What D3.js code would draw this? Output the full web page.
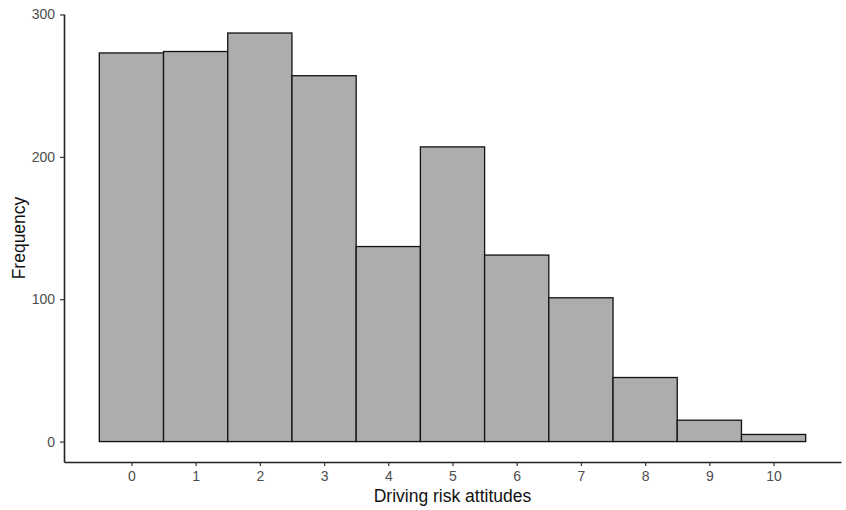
<!DOCTYPE html>
<html>
<head>
<meta charset="utf-8">
<script src="https://cdn.jsdelivr.net/npm/d3@7"></script>
<style>
  body { margin: 0; background: #fff; }
  svg { display: block; font-family: "Liberation Sans", Arial, sans-serif; }
</style>
</head>
<body>
<svg id="chart" width="846" height="510"></svg>
<script>
// histogram bins (score) and counts
const scores = [0, 1, 2, 3, 4, 5, 6, 7, 8, 9, 10];
const counts = [273, 274, 287, 257, 137, 207, 131, 101, 45, 15, 5];
const yTicks = [0, 100, 200, 300];

const svg = d3.select('#chart');
const margin = { left: 64, right: 5, top: 14, bottom: 48 };
const width = 846, height = 510;

// ggplot style 5% expansion on both axes
const x = d3.scaleLinear().domain([-1.05, 11.05]).range([margin.left, width - margin.right]);
const y = d3.scaleLinear().domain([-14.35, 300.35]).range([height - margin.bottom, margin.top]);

svg.append('g')
  .selectAll('rect')
  .data(scores)
  .join('rect')
  .attr('x', d => x(d - 0.5))
  .attr('y', (d, i) => y(counts[i]))
  .attr('width', d => x(d + 0.5) - x(d - 0.5))
  .attr('height', (d, i) => y(0) - y(counts[i]))
  .attr('fill', '#adadad')
  .attr('stroke', '#111')
  .attr('stroke-width', 1.3);

const xAxis = svg.append('g')
  .attr('transform', `translate(0,${height - margin.bottom})`)
  .call(d3.axisBottom(x).tickValues(scores).tickSizeInner(4).tickSizeOuter(0).tickPadding(5).tickFormat(d3.format('d')));

const yAxis = svg.append('g')
  .attr('transform', `translate(${margin.left},0)`)
  .call(d3.axisLeft(y).tickValues(yTicks).tickSizeInner(4).tickSizeOuter(0).tickPadding(5));

[xAxis, yAxis].forEach(a => {
  a.select('.domain').attr('stroke', '#222').attr('stroke-width', 1.6);
  a.selectAll('.tick line').attr('stroke', '#333').attr('stroke-width', 1.2);
  a.selectAll('.tick text').attr('fill', '#4d4d4d').style('font-size', '14px');
});

svg.append('text')
  .attr('x', x(5))
  .attr('y', 502)
  .attr('text-anchor', 'middle')
  .style('font-size', '17.5px')
  .attr('fill', '#111')
  .text('Driving risk attitudes');

svg.append('text')
  .attr('transform', `translate(25,${(margin.top + height - margin.bottom) / 2}) rotate(-90)`)
  .attr('text-anchor', 'middle')
  .style('font-size', '17.5px')
  .attr('fill', '#111')
  .text('Frequency');
</script>
</body>
</html>
